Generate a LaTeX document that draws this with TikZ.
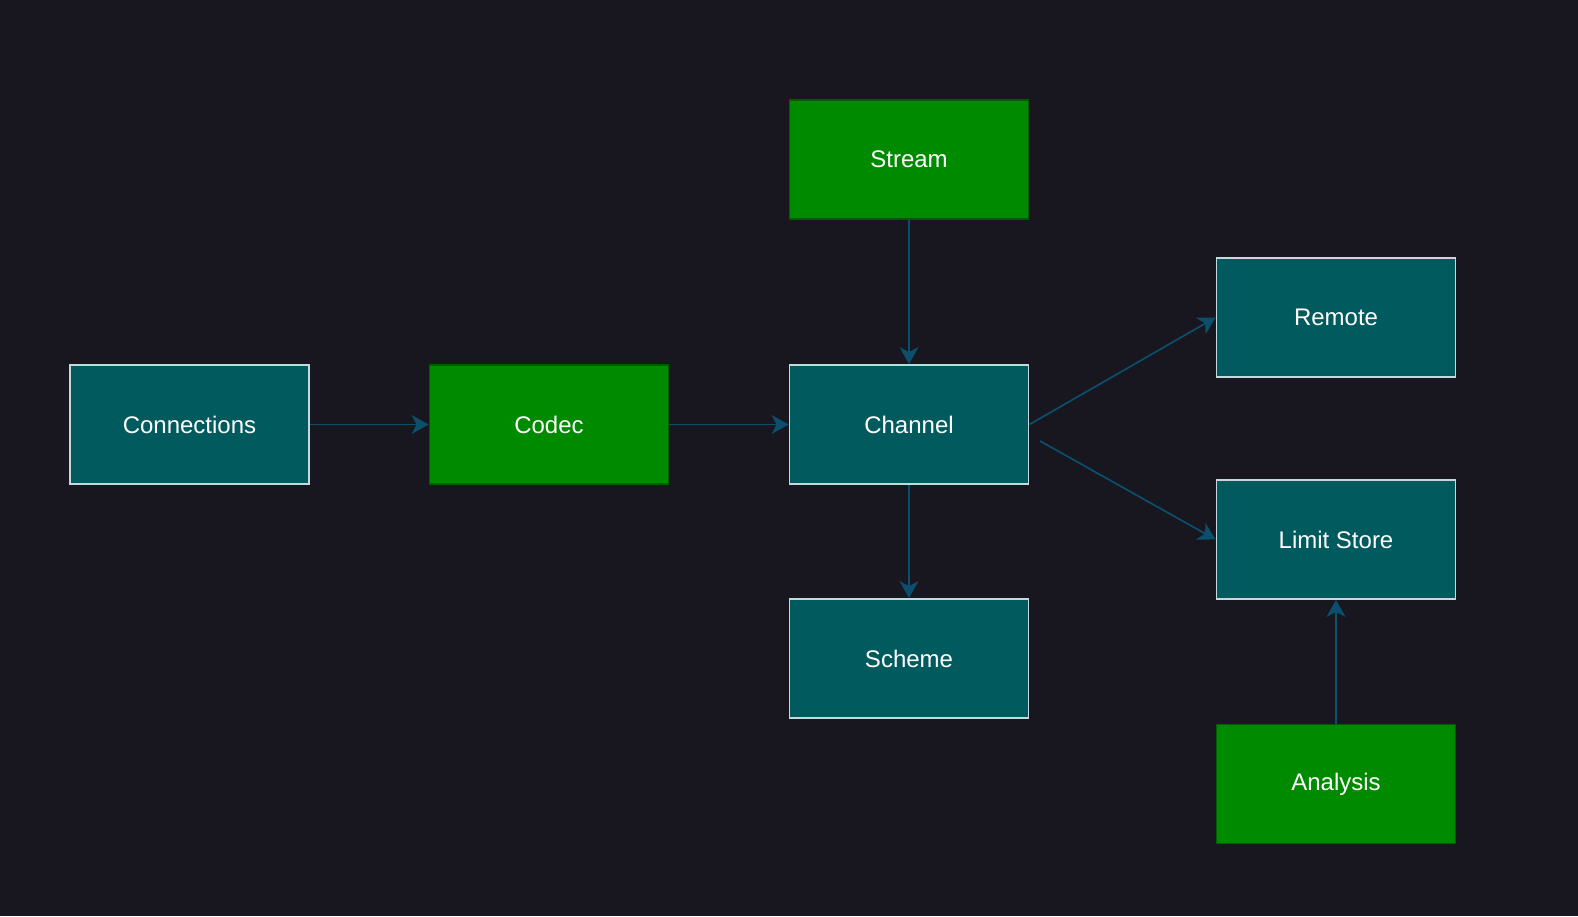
\documentclass[tikz,border=0pt]{standalone}
\usepackage{fontspec}
\setmainfont{Liberation Sans}
\usetikzlibrary{arrows.meta}

\definecolor{bgdark}{HTML}{18161F}
\definecolor{tealfill}{HTML}{005A5E}
\definecolor{tealline}{HTML}{C4D8DE}
\definecolor{greenfill}{HTML}{008A00}
\definecolor{greenline}{HTML}{005C00}
\definecolor{linkblue}{HTML}{0B4F6C}

\tikzset{
  part/.style={draw=tealline,fill=tealfill,line width=0.9pt,minimum width=119.5pt,minimum height=59.5pt,
    text=white,font=\fontsize{12}{14}\selectfont},
  extpart/.style={part,draw=greenline,fill=greenfill},
  link/.style={draw=linkblue,line width=0.85pt,-{Stealth[length=8.5pt,width=9.5pt,inset=2.5pt]}}
}

\begin{document}
\begin{tikzpicture}[x=0.5pt,y=0.5pt]
  \fill[bgdark] (0,0) rectangle (1578,916);
  \useasboundingbox (0,0) rectangle (1578,916);

  \node[part]     (conn)     at (189.5,491.5) {Connections};
  \node[extpart]  (codec)    at (549,491.5)   {Codec};
  \node[part]     (channel)  at (909,491.5)   {Channel};
  \node[extpart]  (stream)   at (909,756.5)   {Stream};
  \node[part]     (scheme)   at (909,257.5)   {Scheme};
  \node[part]     (remote)   at (1336,598.5)  {Remote};
  \node[part]     (limit)    at (1336,376.5)  {Limit Store};
  \node[extpart]  (analysis) at (1336,132)    {Analysis};
  \coordinate (chout) at (1040,475);

  \draw[link] (conn) -- (codec);
  \draw[link] (codec) -- (channel);
  \draw[link] (stream) -- (channel);
  \draw[link] (channel) -- (scheme);
  \draw[link] (channel.east) -- (remote.west);
  \draw[link] (chout) -- (limit.west);
  \draw[link] (analysis) -- (limit);
\end{tikzpicture}
\end{document}
